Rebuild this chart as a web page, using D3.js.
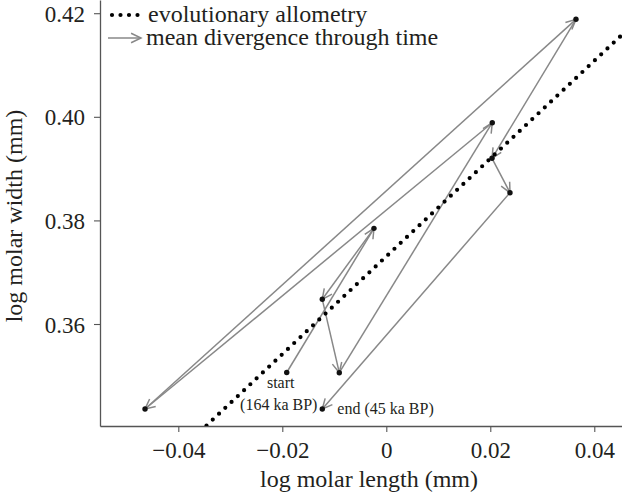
<!DOCTYPE html>
<html>
<head>
<meta charset="utf-8">
<script src="https://cdn.jsdelivr.net/npm/d3@7"></script>
<style>
  html, body { margin: 0; padding: 0; background: #fff; }
  svg { display: block; }
  text { font-family: "Liberation Serif", "Times New Roman", serif; fill: #231f20; }
</style>
</head>
<body>
<svg id="chart" width="622" height="495"></svg>
<script>
// ---- data ----
// mean log molar length / width through time, in chronological order (start -> end)
const logLength = [-0.01915, -0.00237, -0.01231, -0.00904, 0.02038, -0.04640, 0.03648, 0.02033, 0.02379, -0.01231];
const logWidth  = [ 0.35064,  0.37847,  0.36477,  0.35060, 0.39886,  0.34359, 0.41882, 0.39199, 0.38535,  0.34359];
// evolutionary allometry line: width = intercept + slope * length
const allometrySlope = 0.944;
const allometryIntercept = 0.37305;
const xTicks = [-0.04, -0.02, 0, 0.02, 0.04];
const xTickLabels = ["\u22120.04", "\u22120.02", "0", "0.02", "0.04"];
const yTicks = [0.36, 0.38, 0.40, 0.42];
const yTickLabels = ["0.36", "0.38", "0.40", "0.42"];
const legendLabels = ["evolutionary allometry", "mean divergence through time"];
const startLabel = ["start", "(164 ka BP)"];
const endLabel = "end (45 ka BP)";

// ---- layout ----
const svg = d3.select("#chart");
const mLeft = 100, mRight = 622, mTop = 0, mBottom = 426;
const x = d3.scaleLinear().domain([-0.05506, 0.04533]).range([mLeft, mRight]);
const y = d3.scaleLinear().domain([0.34031, 0.42255]).range([mBottom, mTop]);

const gray = "#888888";
const axisColor = "#555";

svg.append("defs").append("clipPath").attr("id", "plotclip")
  .append("rect").attr("x", mLeft).attr("y", mTop).attr("width", mRight - mLeft).attr("height", mBottom - mTop);

// axes
const xAxis = d3.axisBottom(x).tickValues(xTicks).tickFormat((d, i) => xTickLabels[i]).tickSize(6).tickSizeOuter(0);
const gx = svg.append("g").attr("transform", `translate(0,${mBottom})`).call(xAxis);
const yAxis = d3.axisLeft(y).tickValues(yTicks).tickFormat((d, i) => yTickLabels[i]).tickSize(6).tickSizeOuter(0);
const gy = svg.append("g").attr("transform", `translate(${mLeft},0)`).call(yAxis);
[gx, gy].forEach(g => {
  g.select(".domain").attr("stroke", axisColor).attr("stroke-width", 1.3);
  g.selectAll(".tick line").attr("stroke", axisColor).attr("stroke-width", 1.1);
  g.selectAll(".tick text").attr("fill", "#231f20")
    .style("font-family", '"Liberation Serif", "Times New Roman", serif').style("font-size", "23px");
});
gx.selectAll(".tick text").attr("dy", null).attr("y", 32);
gy.selectAll(".tick text").attr("dy", null).attr("x", -15).attr("y", 8);

// axis titles
svg.append("text").attr("x", 369).attr("y", 487).attr("text-anchor", "middle")
  .style("font-size", "24px").text("log molar length (mm)");
svg.append("text").attr("transform", "translate(22,216) rotate(-90)").attr("text-anchor", "middle")
  .style("font-size", "24px").text("log molar width (mm)");

const plot = svg.append("g").attr("clip-path", "url(#plotclip)");

// arrow helper (open V head)
function arrowHead(g, x1, y1, x2, y2, len, ang) {
  const a = Math.atan2(y2 - y1, x2 - x1);
  const p1 = [x2 - len * Math.cos(a - ang), y2 - len * Math.sin(a - ang)];
  const p2 = [x2 - len * Math.cos(a + ang), y2 - len * Math.sin(a + ang)];
  g.append("path").attr("d", `M${p1[0]},${p1[1]}L${x2},${y2}L${p2[0]},${p2[1]}`)
    .attr("fill", "none").attr("stroke", gray).attr("stroke-width", 1.5);
}

// divergence arrows
const pts = logLength.map((v, i) => [v, logWidth[i]]);
for (let i = 0; i < pts.length - 1; i++) {
  const x1 = x(pts[i][0]), y1 = y(pts[i][1]), x2 = x(pts[i + 1][0]), y2 = y(pts[i + 1][1]);
  plot.append("line").attr("x1", x1).attr("y1", y1).attr("x2", x2).attr("y2", y2)
    .attr("stroke", gray).attr("stroke-width", 1.5);
  arrowHead(plot, x1, y1, x2, y2, 11, 0.45);
}

// allometry dotted line
const xd = x.domain();
plot.append("line")
  .attr("x1", x(xd[0])).attr("y1", y(allometryIntercept + allometrySlope * xd[0]))
  .attr("x2", x(xd[1])).attr("y2", y(allometryIntercept + allometrySlope * xd[1]))
  .attr("stroke", "#000").attr("stroke-width", 4.2).attr("stroke-linecap", "round")
  .attr("stroke-dasharray", "0,8.6");

// points
plot.selectAll("circle.pt").data(pts).enter().append("circle").attr("class", "pt")
  .attr("cx", d => x(d[0])).attr("cy", d => y(d[1])).attr("r", 2.7).attr("fill", "#111");

// annotations
const s = pts[0], e = pts[pts.length - 1];
svg.append("text").attr("x", x(s[0]) - 6).attr("y", y(s[1]) + 16).attr("text-anchor", "middle")
  .style("font-size", "16px").text(startLabel[0]);
svg.append("text").attr("x", x(s[0]) - 8).attr("y", y(s[1]) + 37.5).attr("text-anchor", "middle")
  .style("font-size", "16px").text(startLabel[1]);
svg.append("text").attr("x", x(e[0]) + 15).attr("y", y(e[1]) + 4.5).attr("text-anchor", "start")
  .style("font-size", "16px").text(endLabel);

// legend
const lg = svg.append("g");
lg.append("line").attr("x1", 112).attr("x2", 138).attr("y1", 15).attr("y2", 15)
  .attr("stroke", "#000").attr("stroke-width", 4.2).attr("stroke-linecap", "round")
  .attr("stroke-dasharray", "0,8.5");
lg.append("line").attr("x1", 108).attr("x2", 141).attr("y1", 38).attr("y2", 38)
  .attr("stroke", gray).attr("stroke-width", 1.5);
arrowHead(lg, 108, 38, 141, 38, 11, 0.45);
lg.append("text").attr("x", 148).attr("y", 22).style("font-size", "24px").text(legendLabels[0]);
lg.append("text").attr("x", 146).attr("y", 45).style("font-size", "24px").text(legendLabels[1]);
</script>
</body>
</html>
